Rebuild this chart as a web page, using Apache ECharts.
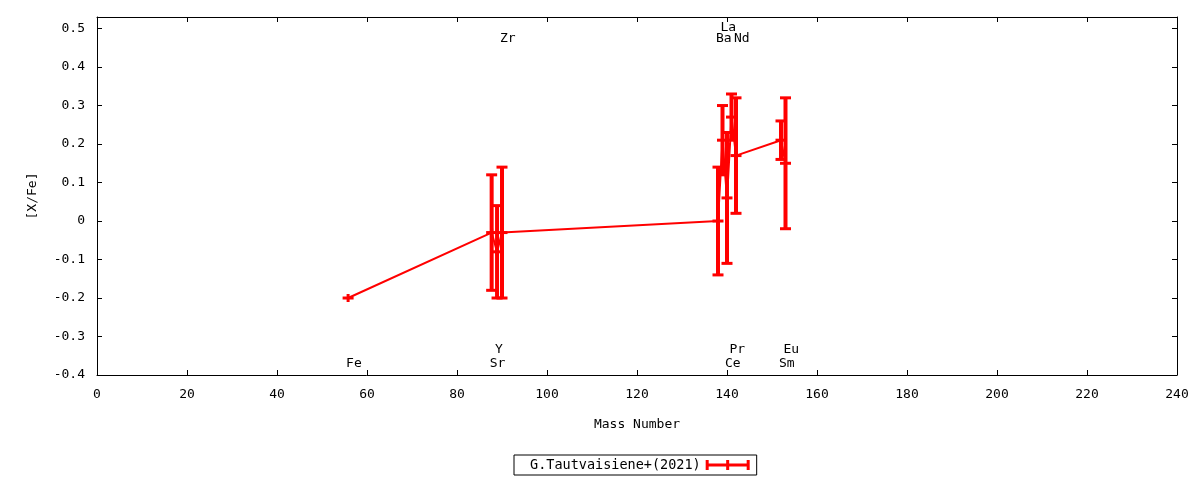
<!DOCTYPE html>
<html>
<head>
<meta charset="utf-8">
<script src="https://cdn.jsdelivr.net/npm/echarts@6/dist/echarts.min.js"></script>
<style>
html,body{margin:0;padding:0;background:#fff;}
#chart{width:1200px;height:480px;}
</style>
</head>
<body>
<div id="chart"></div>
<script>
// ---- data ----
const elements   = ['Fe', 'Sr', 'Y', 'Zr', 'Ba', 'La', 'Ce', 'Pr', 'Nd', 'Sm', 'Eu'];
const massNumber = [55.8, 87.7, 88.9, 90, 138, 139, 140, 141, 142, 152, 153];
const xFe        = [-0.20, -0.03, -0.08, -0.03, 0.00, 0.21, 0.06, 0.27, 0.17, 0.21, 0.15];
const xFeErr     = [0.00, 0.15, 0.12, 0.17, 0.14, 0.09, 0.17, 0.06, 0.15, 0.05, 0.17];
const labelSlot  = ['bottom', 'bottom', 'bottom2', 'top', 'top', 'top2', 'bottom', 'bottom2', 'top', 'bottom', 'bottom2'];
const seriesName = 'G.Tautvaisiene+(2021)';
const xTicks = { min: 0, max: 240, interval: 20 };
const yTicks = { min: -0.4, max: 0.53, interval: 0.1 };

// ---- layout / style ----
const slotY = { top: 0.475, top2: 0.503, bottom: -0.37, bottom2: -0.335 };
const FONT = 'DejaVu Sans Mono';
const RED = '#ff0000';

const chart = echarts.init(document.getElementById('chart'), null, { renderer: 'canvas' });

const axisCommon = {
  axisLine: { show: true, onZero: false, lineStyle: { color: '#000', width: 1 } },
  axisTick: { show: true, inside: true, length: 5, lineStyle: { color: '#000', width: 1 } },
  splitLine: { show: false }
};
const yFmt = v => Math.abs(v) < 1e-9 ? '0' : String(+(+v).toFixed(1));

const option = {
  backgroundColor: '#fff',
  animation: false,
  textStyle: { fontFamily: FONT },
  grid: { left: 97, right: 23, top: 17, bottom: 105 },
  legend: {
    left: 514, top: 455,
    align: 'right',
    padding: [3, 7, 3, 16],
    borderColor: '#000', borderWidth: 1, borderRadius: 0,
    itemWidth: 44, itemHeight: 10,
    textStyle: { fontFamily: FONT, fontSize: 13.5, color: '#000' },
    data: [{ name: seriesName, icon: 'path://M0,0h3v10h-3z M41,0h3v10h-3z M20.5,0h3v10h-3z M0,3.5h44v3h-44z' }]
  },
  xAxis: [
    Object.assign({}, axisCommon, {
      type: 'value', position: 'bottom', min: xTicks.min, max: xTicks.max, interval: xTicks.interval,
      name: 'Mass Number', nameLocation: 'middle', nameGap: 43,
      nameTextStyle: { fontFamily: FONT, fontSize: 13, color: '#000' },
      axisLabel: { show: true, margin: 13, fontFamily: FONT, fontSize: 13, color: '#000' }
    }),
    Object.assign({}, axisCommon, {
      type: 'value', position: 'top', min: xTicks.min, max: xTicks.max, interval: xTicks.interval,
      axisLabel: { show: false }
    })
  ],
  yAxis: [
    Object.assign({}, axisCommon, {
      type: 'value', position: 'left', min: yTicks.min, max: yTicks.max, interval: yTicks.interval,
      name: '[X/Fe]', nameLocation: 'middle', nameGap: 58, nameRotate: 90,
      nameTextStyle: { fontFamily: FONT, fontSize: 13, color: '#000' },
      axisLabel: { show: true, margin: 12, fontFamily: FONT, fontSize: 13, color: '#000', formatter: yFmt, showMaxLabel: false }
    }),
    Object.assign({}, axisCommon, {
      type: 'value', position: 'right', min: yTicks.min, max: yTicks.max, interval: yTicks.interval,
      axisLabel: { show: false }
    })
  ],
  series: [
    {
      name: seriesName,
      type: 'line',
      xAxisIndex: 0, yAxisIndex: 0,
      data: massNumber.map((m, i) => [m, xFe[i]]),
      showSymbol: false,
      lineStyle: { color: RED, width: 2 },
      itemStyle: { color: RED },
      z: 3
    },
    {
      type: 'custom',
      xAxisIndex: 0, yAxisIndex: 0,
      data: massNumber.map((m, i) => [m, xFe[i], xFeErr[i]]),
      renderItem: function (params, api) {
        const x = api.value(0), y = api.value(1), e = api.value(2);
        const c = api.coord([x, y]);
        const lo = api.coord([x, y - e]);
        const hi = api.coord([x, y + e]);
        const bar = { stroke: RED, lineWidth: 4, fill: null };
        const cap = { stroke: RED, lineWidth: 3, fill: null };
        const w = 5.5;
        const children = [
          { type: 'line', shape: { x1: c[0] - w, y1: c[1], x2: c[0] + w, y2: c[1] }, style: cap },
          { type: 'line', shape: { x1: c[0], y1: c[1] - 4, x2: c[0], y2: c[1] + 4 }, style: cap }
        ];
        if (e > 0) {
          children.push(
            { type: 'line', shape: { x1: lo[0], y1: lo[1], x2: hi[0], y2: hi[1] }, style: bar },
            { type: 'line', shape: { x1: lo[0] - w, y1: lo[1], x2: lo[0] + w, y2: lo[1] }, style: cap },
            { type: 'line', shape: { x1: hi[0] - w, y1: hi[1], x2: hi[0] + w, y2: hi[1] }, style: cap }
          );
        }
        return { type: 'group', children: children };
      },
      z: 4
    },
    {
      type: 'custom',
      xAxisIndex: 0, yAxisIndex: 0,
      data: massNumber.map((m, i) => [m, slotY[labelSlot[i]], elements[i]]),
      renderItem: function (params, api) {
        const p = api.coord([api.value(0), api.value(1)]);
        return {
          type: 'text',
          x: p[0] - 2, y: p[1],
          style: {
            text: elements[params.dataIndex],
            textAlign: 'left', textVerticalAlign: 'middle',
            font: '13px "' + FONT + '"', fill: '#000'
          }
        };
      },
      z: 5
    }
  ]
};
chart.setOption(option);
</script>
</body>
</html>
